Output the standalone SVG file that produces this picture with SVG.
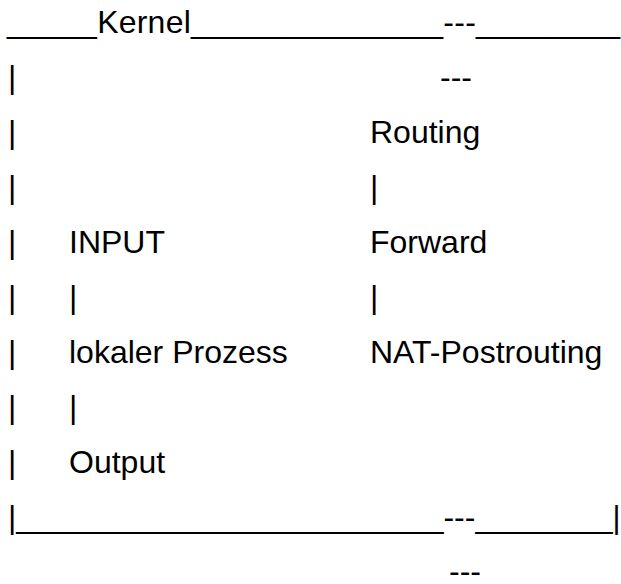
<svg xmlns="http://www.w3.org/2000/svg" width="621" height="584" viewBox="0 0 621 584">
<style>
text{font-family:"Liberation Sans",Arial,sans-serif;font-size:32px;fill:#000;white-space:pre}
</style>
<rect width="621" height="584" fill="#fff"/>
<g id="kernel-frame">
<text x="7" y="33" textLength="613" lengthAdjust="spacing">_____Kernel______________---________</text>
<text x="8" y="528">|________________________---</text>
<text x="475.5" y="528" textLength="145" lengthAdjust="spacingAndGlyphs">________|</text>
</g>
<g id="connectors">
<text x="8" y="88">|</text>
<text x="440" y="88">---</text>
<text x="8" y="143">|</text>
<text x="8" y="198">|</text>
<text x="370" y="198">|</text>
<text x="8" y="253">|</text>
<text x="8" y="308">|</text>
<text x="69" y="308">|</text>
<text x="370" y="308">|</text>
<text x="8" y="363">|</text>
<text x="8" y="418">|</text>
<text x="69" y="418">|</text>
<text x="8" y="473">|</text>
<text x="449" y="582">---</text>
</g>
<g id="routing"><text x="370" y="143">Routing</text></g>
<g id="input"><text x="69" y="253">INPUT</text></g>
<g id="forward"><text x="370" y="253">Forward</text></g>
<g id="lokaler-prozess"><text x="69" y="363">lokaler Prozess</text></g>
<g id="nat-postrouting"><text x="370" y="363">NAT-Postrouting</text></g>
<g id="output"><text x="69" y="473">Output</text></g>
</svg>
